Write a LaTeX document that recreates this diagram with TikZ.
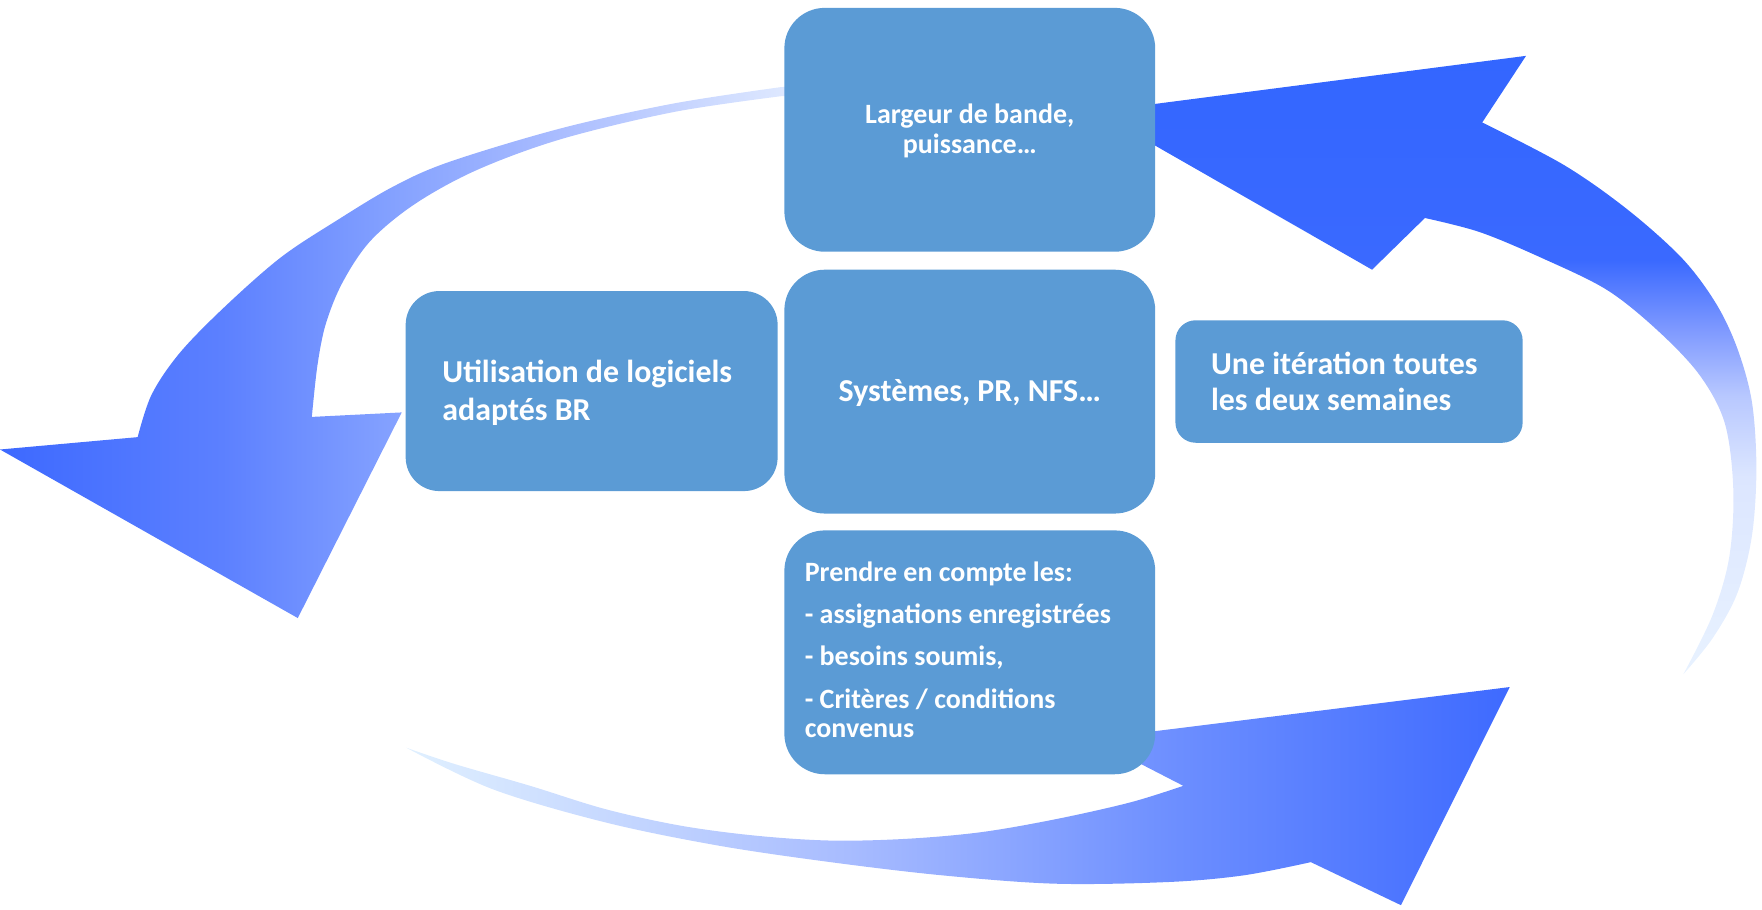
\documentclass[tikz,border=0pt]{standalone}
\usepackage{fontspec}
\setmainfont{Carlito}
\definecolor{boxblue}{HTML}{5B9BD5}
% left arrow colours
\definecolor{lA}{HTML}{3D69FF}
\definecolor{lB}{HTML}{5C80FF}
\definecolor{lC}{HTML}{85A2FF}
\definecolor{lD}{HTML}{A9BCFF}
\definecolor{lE}{HTML}{E0EAFF}
% right arrow colours
\definecolor{rA}{HTML}{E8F2FF}
\definecolor{rB}{HTML}{DCE6FF}
\definecolor{rC}{HTML}{B8C8FF}
\definecolor{rD}{HTML}{7D98FF}
\definecolor{rE}{HTML}{3A69FF}
\definecolor{rF}{HTML}{3366FF}
% bottom arrow colours
\definecolor{bA}{HTML}{E0F0FF}
\definecolor{bB}{HTML}{A8BCFF}
\definecolor{bC}{HTML}{6C8EFF}
\definecolor{bD}{HTML}{3E6AFF}
\pgfdeclarehorizontalshading{shadeL}{100bp}{color(0bp)=(lA); color(25bp)=(lA); color(39bp)=(lB); color(50bp)=(lC); color(60bp)=(lD); color(75bp)=(lE); color(100bp)=(lE)}
\pgfdeclareverticalshading{shadeR}{100bp}{color(0bp)=(rA); color(25bp)=(rA); color(41bp)=(rB); color(47.5bp)=(rC); color(53bp)=(rD); color(58.5bp)=(rE); color(75bp)=(rF); color(100bp)=(rF)}
\pgfdeclarehorizontalshading{shadeB}{100bp}{color(0bp)=(bA); color(25bp)=(bA); color(45bp)=(bB); color(60bp)=(bC); color(75bp)=(bD); color(100bp)=(bD)}
\begin{document}
\begin{tikzpicture}[x=1pt,y=-1pt,
  card/.style={fill=boxblue, draw=none, rounded corners=#1, inner sep=0pt},
  big/.style={text=white, inner sep=0pt, font=\bfseries\fontsize{28.4}{34}\selectfont},
  small/.style={text=white, inner sep=0pt, font=\bfseries\fontsize{24.9}{27}\selectfont}]
\useasboundingbox (0,0) rectangle (1568,809);

% --- arrows (drawn first, boxes on top) ---
\shade[shading=shadeL] (706,77) --
  plot[smooth, tension=0.55] coordinates {(695,77.5) (600,92) (500,114) (400,144) (350,166) (300,196) (250,229) (200,273) (160,314) (135,351) (122.5,389)}
  -- (0,400) -- (265,550) -- (357.5,367) --
  plot[smooth, tension=0.55] coordinates {(277.5,371) (282.5,325) (290,288) (305,251) (330,214) (370,181) (425,151) (500,123.6) (600,99.6) (695,85.6)}
  -- (706,85.6) -- cycle;

\shade[shading=shadeR] (1020,93.5) -- (1358,49.7) --
  plot[smooth, tension=0.55] coordinates {(1319,109) (1392,147) (1448.6,186.7) (1497,230) (1527,270) (1546,310) (1559,357.6) (1563,417) (1559,477) (1546,528) (1524,568) (1498,600)}
  -- plot[smooth, tension=0.55] coordinates {(1498,600) (1523.7,548) (1538.7,496.6) (1542.5,437) (1535,377) (1512.4,333.7) (1475,294) (1430,258) (1373,230) (1317,206.6) (1268,194)}
  -- (1221,240) -- (1020,125) -- cycle;

\shade[shading=shadeB] (361.6,665.4) --
  plot[smooth, tension=0.55] coordinates {(361.6,665.4) (438.4,702.3) (538.6,731.8) (638.8,752.4) (739,767.2) (839,779) (939.4,786.4) (1039.6,784.9) (1106.4,779) (1166.5,767.2)}
  -- (1246.7,805.5) -- (1343.5,611.4) -- (1005,653.5) -- (1000,672) --
  plot[smooth, tension=0.55] coordinates {(1053,699.3) (1006,714) (939.4,729) (872.6,740.6) (805.8,746.5) (739,748) (672,743.6) (605.4,734.7) (538.6,720) (471.8,699.3) (405,680) (361.6,665.4)}
  -- cycle;

% --- boxes ---
\node[card=36pt, minimum width=330pt, minimum height=217pt] (top) at (863,115.5) {};
\node[card=36pt, minimum width=330pt, minimum height=217pt] (mid) at (863,348.5) {};
\node[card=36pt, minimum width=330pt, minimum height=217pt] (bot) at (863,580.5) {};
\node[card=30pt, minimum width=331pt, minimum height=178pt] (left) at (526.5,348) {};
\node[card=18pt, minimum width=309pt, minimum height=109pt] (right) at (1200.5,339.5) {};

% --- texts ---
\node[small, anchor=base] (t1) at (863,109.5) {Largeur de bande,};
\node[small, anchor=base] (t2) at (863,136.5) {puissance…};
\node[big, anchor=base] (m1) at (863,357.5) {Systèmes, PR, NFS…};
\node[big, anchor=base west] (l1) at (393.5,340.5) {Utilisation de logiciels};
\node[big, anchor=base west] (l2) at (393.5,374) {adaptés BR};
\node[big, anchor=base west] (r1) at (1077.5,333) {Une itération toutes};
\node[big, anchor=base west] (r2) at (1077.5,365.5) {les deux semaines};
\node[small, anchor=base west] (b1) at (716,517.5) {Prendre en compte les:};
\node[small, anchor=base west] (b2) at (716,554.5) {- assignations enregistrées};
\node[small, anchor=base west] (b3) at (716,592.5) {- besoins soumis,};
\node[small, anchor=base west] (b4) at (716,630.5) {- Critères / conditions};
\node[small, anchor=base west] (b5) at (716,656.5) {convenus};
\end{tikzpicture}
\end{document}
